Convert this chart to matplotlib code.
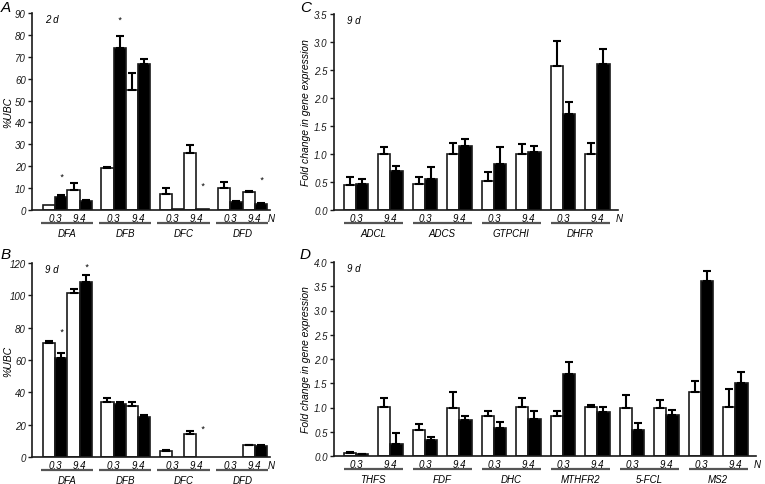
import numpy as np
import matplotlib
matplotlib.use('Agg')
import matplotlib.pyplot as plt
from matplotlib import transforms

plt.rcParams['font.family'] = ['Liberation Sans', 'DejaVu Sans']
plt.rcParams['font.style'] = 'italic'

W, H = 765, 485

# ---- panel A : 2 d, %UBC ----
a_groups = ['DFA', 'DFB', 'DFC', 'DFD']
a_w03 = [2.1, 19.2, 7.1, 10.0]
a_w03_err = [0.0, 0.5, 2.9, 2.9]
a_b03 = [6.0, 73.8, 0.3, 3.7]
a_b03_err = [0.9, 5.6, 0.0, 0.3]
a_w94 = [9.2, 54.9, 26.1, 8.0]
a_w94_err = [3.1, 7.9, 3.7, 0.8]
a_b94 = [4.3, 66.9, 0.3, 2.7]
a_b94_err = [0.4, 1.9, 0.0, 0.5]
a_stars = [(0, 1, 15.5), (1, 1, 87.0), (2, 3, 11.5), (3, 3, 14.0)]  # group, bar, y

# ---- panel B : 9 d, %UBC ----
b_groups = ['DFA', 'DFB', 'DFC', 'DFD']
b_w03 = [70.7, 34.3, 4.0, 0.0]
b_w03_err = [1.3, 1.9, 0.3, 0.0]
b_b03 = [61.4, 32.5, 0.0, 0.0]
b_b03_err = [3.0, 1.5, 0.0, 0.0]
b_w94 = [101.5, 31.3, 14.5, 7.2]
b_w94_err = [2.6, 2.6, 1.7, 0.4]
b_b94 = [108.5, 24.5, 0.0, 6.5]
b_b94_err = [3.9, 1.6, 0.0, 0.9]
b_stars = [(0, 1, 78.0), (0, 3, 118.0), (2, 3, 17.5)]

# ---- panel C : 9 d, fold change ----
c_groups = ['ADCL', 'ADCS', 'GTPCHI', 'DHFR']
c_w03 = [0.44, 0.47, 0.51, 2.57]
c_w03_err = [0.15, 0.12, 0.16, 0.45]
c_b03 = [0.47, 0.56, 0.83, 1.71]
c_b03_err = [0.08, 0.21, 0.30, 0.22]
c_w94 = [1.0, 1.0, 1.0, 1.0]
c_w94_err = [0.12, 0.19, 0.17, 0.19]
c_b94 = [0.69, 1.14, 1.03, 2.60]
c_b94_err = [0.09, 0.13, 0.12, 0.27]

# ---- panel D : 9 d, fold change ----
d_groups = ['THFS', 'FDF', 'DHC', 'MTHFR2', '5-FCL', 'MS2']
d_w03 = [0.07, 0.53, 0.83, 0.83, 0.98, 1.31]
d_w03_err = [0.02, 0.13, 0.10, 0.09, 0.28, 0.23]
d_b03 = [0.04, 0.33, 0.57, 1.70, 0.53, 3.60]
d_b03_err = [0.01, 0.06, 0.13, 0.23, 0.16, 0.21]
d_w94 = [1.02, 1.0, 1.01, 1.01, 1.0, 1.01]
d_w94_err = [0.17, 0.32, 0.18, 0.04, 0.16, 0.38]
d_b94 = [0.25, 0.74, 0.77, 0.90, 0.84, 1.50]
d_b94_err = [0.22, 0.09, 0.15, 0.11, 0.11, 0.24]

fs = 7
dark = '#1a1a1a'
lgray = '#555555'


def rect(l, r, t, b):
    return [l / W, 1 - b / H, (r - l) / W, (b - t) / H]


def offs(ax, dx=0, dy=0, xaxes=False):
    base = ax.transAxes if xaxes else transforms.blended_transform_factory(ax.transData, ax.transAxes)
    return transforms.offset_copy(base, fig=fig, x=dx, y=dy, units='dots')


def panel(ax, groups, vals, errs, kind, ymax, ystep, fmt, day, stars=()):
    n = len(groups)
    if kind == 'quad':
        base = np.arange(n) * 4.78
        xs = [base, base + 1, base + 2, base + 3]
        lab03, lab94, labg = base + 0.5, base + 2.5, base + 1.5
        line0, line1 = base - 0.7, base + 3.6
        padl, padr = 0.9, 0.25
    else:
        base = np.arange(n) * 5.7
        xs = [base, base + 1, base + 2.85, base + 3.85]
        lab03, lab94, labg = base + 0.5, base + 3.35, base + 1.925
        line0, line1 = base - 0.5, base + 4.35
        padl, padr = 0.81, 0.7
    faces = ['white', 'black', 'white', 'black']
    for x, v, e, fc in zip(xs, vals, errs, faces):
        v = np.array(v); e = np.array(e)
        m = v > 0
        ax.bar(x[m], v[m], width=1.0, color=fc, edgecolor=dark, linewidth=1.2, zorder=2)
        me = e > 0
        ax.errorbar(x[me], v[me], yerr=[np.zeros(me.sum()), e[me]], fmt='none',
                    ecolor='black', elinewidth=1.5, capsize=2.8, capthick=1.5, zorder=3)
    for g, b, y in stars:
        ax.text(xs[b][g], y, '*', ha='center', va='center', fontsize=6.5)
    ax.set_xlim(xs[0][0] - 0.5 - padl, xs[3][-1] + 0.5 + padr)
    ax.set_ylim(0, ymax)
    ax.set_xticks([])
    ticks = np.arange(0, ymax + ystep / 2, ystep)
    ax.set_yticks(ticks)
    ax.set_yticklabels([fmt % t for t in ticks])
    ax.tick_params(axis='y', direction='out', length=3, width=1, labelsize=fs, pad=1.5,
                   colors=dark)
    for s in ['top', 'right']:
        ax.spines[s].set_visible(False)
    for s in ['left', 'bottom']:
        ax.spines[s].set_linewidth(1.2)
        ax.spines[s].set_color(dark)
    t8 = offs(ax, dy=-8)
    for i in range(n):
        ax.text(lab03[i], 0, '0.3', transform=t8, ha='center', va='center', fontsize=fs)
        ax.text(lab94[i], 0, '9.4', transform=t8, ha='center', va='center', fontsize=fs)
        ax.plot([line0[i], line1[i]], [0, 0], transform=offs(ax, dy=-13), color=lgray,
                lw=1.6, clip_on=False, solid_capstyle='butt')
        ax.text(labg[i], 0, groups[i], transform=offs(ax, dy=-23), ha='center', va='center',
                fontsize=fs)
    ax.text(1, 0, 'N', transform=offs(ax, dx=1, dy=-8, xaxes=True), ha='center', va='center',
            fontsize=fs)
    ax.text(0, 1, day, transform=offs(ax, dx=13, dy=-6, xaxes=True), ha='left', va='center',
            fontsize=fs)


fig = plt.figure(figsize=(W / 100, H / 100), dpi=100)

axA = fig.add_axes(rect(32, 270, 14, 211))
panel(axA, a_groups, [a_w03, a_b03, a_w94, a_b94], [a_w03_err, a_b03_err, a_w94_err, a_b94_err],
      'quad', 90, 10, '%d', '2 d', a_stars)
axB = fig.add_axes(rect(32, 270, 264, 458))
panel(axB, b_groups, [b_w03, b_b03, b_w94, b_b94], [b_w03_err, b_b03_err, b_w94_err, b_b94_err],
      'quad', 120, 20, '%d', '9 d', b_stars)
axC = fig.add_axes(rect(334, 618, 15, 211))
panel(axC, c_groups, [c_w03, c_b03, c_w94, c_b94], [c_w03_err, c_b03_err, c_w94_err, c_b94_err],
      'pair', 3.5, 0.5, '%.1f', '9 d')
axD = fig.add_axes(rect(334, 756, 263, 457))
panel(axD, d_groups, [d_w03, d_b03, d_w94, d_b94], [d_w03_err, d_b03_err, d_w94_err, d_b94_err],
      'pair', 4.0, 0.5, '%.1f', '9 d')

# axis titles and panel letters
fig.text(8 / W, 1 - 112 / H, '%UBC', rotation=90, ha='center', va='center', fontsize=7.5)
fig.text(8 / W, 1 - 361 / H, '%UBC', rotation=90, ha='center', va='center', fontsize=7.5)
fig.text(306 / W, 1 - 113 / H, 'Fold change in gene expression', rotation=90, ha='center',
         va='center', fontsize=7.5)
fig.text(306 / W, 1 - 360 / H, 'Fold change in gene expression', rotation=90, ha='center',
         va='center', fontsize=7.5)
for lab, x, y in [('A', 1, 1), ('B', 1, 248), ('C', 300, 1), ('D', 300, 248)]:
    fig.text(x / W, 1 - y / H, lab, ha='left', va='top', fontsize=11)

fig.savefig('out.png', dpi=100)
